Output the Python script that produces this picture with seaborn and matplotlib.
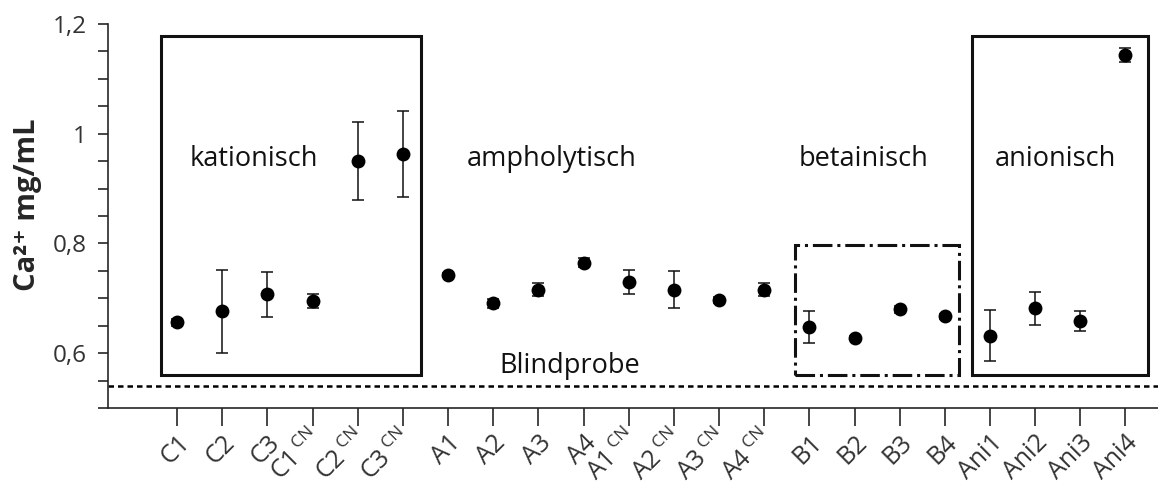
import matplotlib
matplotlib.use("Agg")
import matplotlib.pyplot as plt
import matplotlib.patches as mpatches
import matplotlib.ticker as mticker
import matplotlib.transforms as mtransforms
import seaborn as sns
import pandas as pd

# Sample names and whether they carry the "CN" superscript
samples = ["C1", "C2", "C3", "C1", "C2", "C3",
           "A1", "A2", "A3", "A4", "A1", "A2", "A3", "A4",
           "B1", "B2", "B3", "B4",
           "Ani1", "Ani2", "Ani3", "Ani4"]
is_cn = [False, False, False, True, True, True,
         False, False, False, False, True, True, True, True,
         False, False, False, False,
         False, False, False, False]

# Ca2+ concentration (mg/mL) and standard deviation
ca_mean = [0.656, 0.676, 0.707, 0.695, 0.950, 0.963,
           0.743, 0.691, 0.716, 0.765, 0.729, 0.716, 0.697, 0.716,
           0.648, 0.628, 0.680, 0.667,
           0.632, 0.682, 0.658, 1.143]
ca_sd = [0.007, 0.076, 0.041, 0.012, 0.071, 0.079,
         0.004, 0.008, 0.011, 0.008, 0.022, 0.034, 0.006, 0.012,
         0.029, 0.003, 0.006, 0.004,
         0.046, 0.030, 0.018, 0.013]

blank_value = 0.541

# Group frames: (first index, last index, pad left, pad right, y bottom, y top, style)
groups = [
    ("kationisch", 0, 5, 0.36, 0.39, 0.560, 1.178, "-"),
    ("betainisch", 14, 17, 0.31, 0.31, 0.560, 0.798, "-."),
    ("anionisch", 18, 21, 0.40, 0.49, 0.560, 1.178, "-"),
]
group_labels = [("kationisch", 1.7), ("ampholytisch", 8.3),
                ("betainisch", 15.2), ("anionisch", 19.45)]

tick_labels = [f"{s}$\\,^{{\\mathregular{{CN}}}}$" if cn else s
               for s, cn in zip(samples, is_cn)]
keys = [f"{s}{'_CN' if cn else ''}" for s, cn in zip(samples, is_cn)]
df = pd.DataFrame({"sample": keys, "ca": ca_mean, "sd": ca_sd})

sns.set_style("ticks")
plt.rcParams["font.family"] = ["Open Sans", "DejaVu Sans"]
plt.rcParams["mathtext.default"] = "regular"

fig = plt.figure(figsize=(11.58, 4.86), dpi=100)
ax = fig.add_axes([108 / 1158, 78 / 486, 1 - 108 / 1158, 384 / 486])

ax.errorbar(range(len(df)), df["ca"], yerr=df["sd"], fmt="none",
            ecolor="#111111", elinewidth=1.1, capsize=4.5, capthick=1.1, zorder=2)
sns.scatterplot(data=df, x="sample", y="ca", ax=ax, color="black", s=100,
                edgecolor="black", linewidth=0, zorder=3, legend=False)

ax.axhline(blank_value, color="black", lw=1.8, ls=(0, (2.2, 1.6)), zorder=1)
ax.text(8.7, 0.576, "Blindprobe", ha="center", va="center", fontsize=19.5,
        color="#111111")

for name, i0, i1, pl, pr, yb, yt, ls in groups:
    rect = mpatches.Rectangle((i0 - pl, yb), (i1 + pr) - (i0 - pl), yt - yb,
                              fill=False, lw=2.2, ls=ls, edgecolor="#111111", zorder=1)
    ax.add_patch(rect)

for name, xpos in group_labels:
    ax.text(xpos, 0.954, name, ha="center", va="center", fontsize=19.5,
            color="#111111")

ax.set_xlim(-1.53, 21.72)
ax.set_ylim(0.5, 1.2)
ax.set_xticks(range(len(df)))
ax.set_xticklabels(tick_labels, rotation=45, ha="right", rotation_mode="anchor",
                   fontsize=18, color="#333333")
ax.tick_params(axis="x", length=13, width=1.2, pad=3)
# labels with a superscript are anchored near their baseline, nudged slightly
nudge = mtransforms.ScaledTranslation(1.5 / 72, -1.5 / 72, fig.dpi_scale_trans)
for lbl, cn in zip(ax.get_xticklabels(), is_cn):
    if cn:
        lbl.set_verticalalignment("center_baseline")
        lbl.set_transform(lbl.get_transform() + nudge)

ax.yaxis.set_major_locator(mticker.FixedLocator([0.6, 0.8, 1.0, 1.2]))
ax.yaxis.set_minor_locator(mticker.MultipleLocator(0.05))
ax.yaxis.set_major_formatter(mticker.FuncFormatter(
    lambda v, p: f"{v:g}".replace(".", ",")))
ax.tick_params(axis="y", which="both", length=7, width=1.2, labelsize=17.5,
               labelcolor="#333333", pad=8)

ax.set_xlabel("")
ax.set_ylabel("Ca²⁺ mg/mL", fontsize=21, fontweight="bold", va="center",
              family=["Open Sans", "DejaVu Sans"])
ax.yaxis.set_label_coords(-0.0762, 0.53)

sns.despine(ax=ax)
for sp in ("left", "bottom"):
    ax.spines[sp].set_linewidth(1.2)

fig.savefig("out.png", dpi=100)
